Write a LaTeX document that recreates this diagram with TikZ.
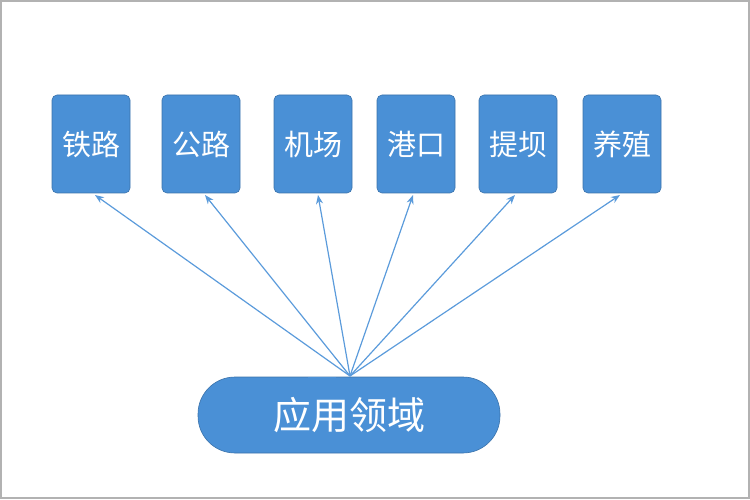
\documentclass[tikz,border=0pt]{standalone}
\usepackage{fontspec}
\newfontfamily\cjk{Noto Sans CJK SC}
\usetikzlibrary{arrows.meta}
\definecolor{bl}{HTML}{4A90D6}
\definecolor{ln}{HTML}{5B9BDB}
\tikzset{
 box/.style={fill=bl,draw=bl!80!black,line width=0.6pt,rounded corners=5pt,minimum width=78pt,minimum height=98pt,inner sep=0pt,text=white,font=\cjk\fontsize{29}{30}\selectfont},
 pill/.style={fill=bl,draw=bl!80!black,line width=0.6pt,rounded corners=37pt,minimum width=302pt,minimum height=76pt,text=white,font=\cjk\fontsize{38}{40}\selectfont},
 arr/.style={ln,line width=1.2pt,-{Stealth[length=9pt,width=7pt]}}
}
\begin{document}
\begin{tikzpicture}[x=1pt,y=-1pt]
\useasboundingbox (0,0) rectangle (750,500);
\draw[gray!60,line width=1.5pt] (1,1) rectangle (749,498);
\node[box] (a) at (91,144) {铁路};
\node[box] (b) at (201,144) {公路};
\node[box] (c) at (313,144) {机场};
\node[box] (d) at (416,144) {港口};
\node[box] (e) at (518,144) {提坝};
\node[box] (f) at (622,144) {养殖};
\node[pill] (p) at (349,415) {应用领域};
\coordinate (o) at (350,376);
\fill[bl] (336,377) arc (180:360:-14) -- cycle;
\foreach \t/\x in {a/95,b/205,c/318,d/413,e/515,f/620}
  \draw[arr] (o) -- (\x,195);
\end{tikzpicture}
\end{document}
